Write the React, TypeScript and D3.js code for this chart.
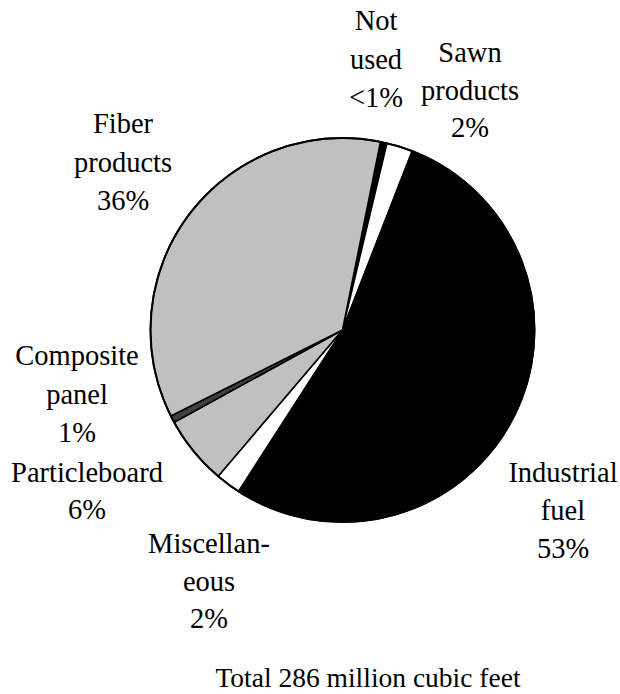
import React from "react";
import * as d3 from "d3";

const categories = [
  "Not used",
  "Sawn products",
  "Industrial fuel",
  "Miscellaneous",
  "Particleboard",
  "Composite panel",
  "Fiber products",
];
const values = [0.55, 2.2, 53.2, 2.1, 5.8, 0.6, 35.55];
const labelLines = [
  ["Not", "used", "<1%"],
  ["Sawn", "products", "2%"],
  ["Industrial", "fuel", "53%"],
  ["Miscellan-", "eous", "2%"],
  ["Particleboard", "6%"],
  ["Composite", "panel", "1%"],
  ["Fiber", "products", "36%"],
];
const fills = ["#000000", "#ffffff", "#000000", "#ffffff", "#c0c0c0", "#404040", "#c0c0c0"];
const totalText = "Total 286 million cubic feet";

// label anchor (center x, first baseline y) and line step
const labelPos: [number, number, number][] = [
  [376, 30, 38.5],
  [470, 62, 37.5],
  [563, 482, 38],
  [209, 553, 37.5],
  [87, 482, 37],
  [77, 365, 38.5],
  [123, 133, 38.5],
];

export default function App() {
  const W = 620;
  const H = 694;
  const cx = 342.5;
  const cy = 330;
  const r = 192;
  const start = (11.4 * Math.PI) / 180;

  const pie = d3
    .pie<number>()
    .sort(null)
    .value((d) => d)
    .startAngle(start)
    .endAngle(start + 2 * Math.PI);
  const arcs = pie(values);
  const arc = d3.arc<d3.PieArcDatum<number>>().innerRadius(0).outerRadius(r);

  const labelStyle = { fontFamily: "Liberation Serif", fontSize: "28.5px" };
  const totalStyle = { fontFamily: "Liberation Serif", fontSize: "27.5px" };

  return (
    <svg
      width={W}
      height={H}
      style={{ position: "absolute", left: 0, top: 0, background: "#fff", fontFamily: "Liberation Serif" }}
    >
      <g transform={`translate(${cx},${cy})`}>
        {arcs.map((a, i) => (
          <path
            key={categories[i]}
            d={arc(a) || ""}
            fill={fills[i]}
            stroke="#000"
            strokeWidth={1.6}
            strokeLinejoin="round"
          />
        ))}
        <circle r={r} fill="none" stroke="#000" strokeWidth={2} />
      </g>
      {labelLines.map((lines, i) => (
        <text key={categories[i]} style={labelStyle} textAnchor="middle" fill="#000">
          {lines.map((t, j) => (
            <tspan key={j} x={labelPos[i][0]} y={labelPos[i][1] + j * labelPos[i][2]}>
              {t}
            </tspan>
          ))}
        </text>
      ))}
      <text x={368} y={687} style={totalStyle} textAnchor="middle" fill="#000">
        {totalText}
      </text>
    </svg>
  );
}
